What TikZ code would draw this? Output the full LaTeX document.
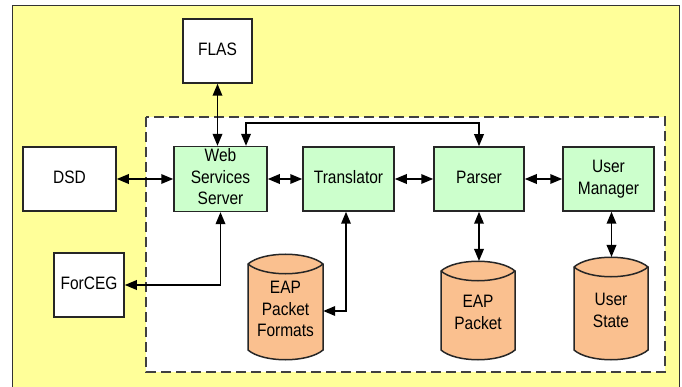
\documentclass[tikz,border=0pt]{standalone}
\usepackage{fontspec}
\usepackage{graphicx}
\setmainfont{Liberation Sans}
\usetikzlibrary{arrows.meta}
\definecolor{bgyellow}{HTML}{FFFF99}
\definecolor{boxgreen}{HTML}{CCFFCC}
\definecolor{dborange}{HTML}{FAC08F}
\newcommand\cylpath[4]{%
 \filldraw[cylstyle] ({#1-#2},#3) .. controls ({#1-#2+15},{#3-13}) and ({#1+#2-15},{#3-13}) .. ({#1+#2},#3) -- ({#1+#2},#4) .. controls ({#1+#2-15},{#4+13}) and ({#1-#2+15},{#4+13}) .. ({#1-#2},#4) -- cycle;
 \draw[cylstyle, fill=none] ({#1-#2},#3) .. controls ({#1-#2+15},{#3+13}) and ({#1+#2-15},{#3+13}) .. ({#1+#2},#3);}
\newcommand\tx[1]{\scalebox{1}[1.16]{\begin{tabular}{@{}c@{}}#1\end{tabular}}}
\begin{document}
\begin{tikzpicture}[x=1pt,y=-1pt,
 box/.style={draw=black!85, line width=1.5pt, minimum height=64pt, align=center, font=\fontsize{15.5}{18.6}\selectfont, inner sep=0pt},
 ext/.style={box, fill=white},
 comp/.style={box, fill=boxgreen},
 cylstyle/.style={draw=black!85, line width=1.5pt, fill=dborange},
 cyltext/.style={align=center, font=\fontsize{15.5}{18.6}\selectfont, inner sep=0pt, minimum width=75pt},
 dbl/.style={line width=1.8pt, {Triangle[length=12pt,width=9.5pt]}-{Triangle[length=12pt,width=9.5pt]}}]
\useasboundingbox (0,0) rectangle (682,387);
\clip (0,0) rectangle (682,387);
\draw[fill=bgyellow, draw=black!80, line width=1pt] (12,6) rectangle (679,400);
\draw[fill=white, draw=black!75, line width=1.9pt, dash pattern=on 10pt off 5pt] (146,117) rectangle (665,372);

\node[ext, minimum width=69pt] (flas) at (217.5,51) {\tx{FLAS}};
\node[ext, minimum width=93pt] (dsd) at (69.5,179) {\tx{DSD}};
\node[ext, minimum width=70pt] (forceg) at (89,285) {\tx{ForCEG}};
\node[comp, minimum width=93pt] (wss) at (220.5,179) {\tx{Web\\Services\\Server}};
\node[comp, minimum width=91pt] (trans) at (348.5,179) {\tx{Translator}};
\node[comp, minimum width=90pt] (parser) at (479,179) {\tx{Parser}};
\node[comp, minimum width=91pt] (um) at (608.5,179) {\tx{User\\Manager}};

\cylpath{285.5}{37.5}{264}{350}
\cylpath{478}{37}{271}{350}
\cylpath{611}{37}{267}{350}
\node[cyltext] (eapf) at (285.5,311) {\tx{EAP\\Packet\\Formats}};
\node[cyltext] (eap) at (478,314) {\tx{EAP\\Packet}};
\node[cyltext] (ustate) at (611,312) {\tx{User\\State}};
\coordinate (eaptop) at (478,261);
\coordinate (ustop) at (611,257);

\draw[dbl] (flas.south) -- (flas.south |- wss.north);
\draw[dbl] (dsd) -- (wss);
\draw[dbl] (wss) -- (trans);
\draw[dbl] (trans) -- (parser);
\draw[dbl] (parser) -- (um);
\draw[dbl] (parser.south) -- (parser.south |- eaptop);
\draw[dbl] ([xshift=3pt]um.south) -- ([xshift=3pt]um.south |- ustop);
\draw[dbl] ([xshift=-2.5pt]trans.south) |- (eapf.east);
\draw[dbl] (wss.south) |- (forceg.east);
\draw[dbl] ([xshift=25.5pt]wss.north) -- ++(0,-23) -| (parser.north);
\end{tikzpicture}
\end{document}
